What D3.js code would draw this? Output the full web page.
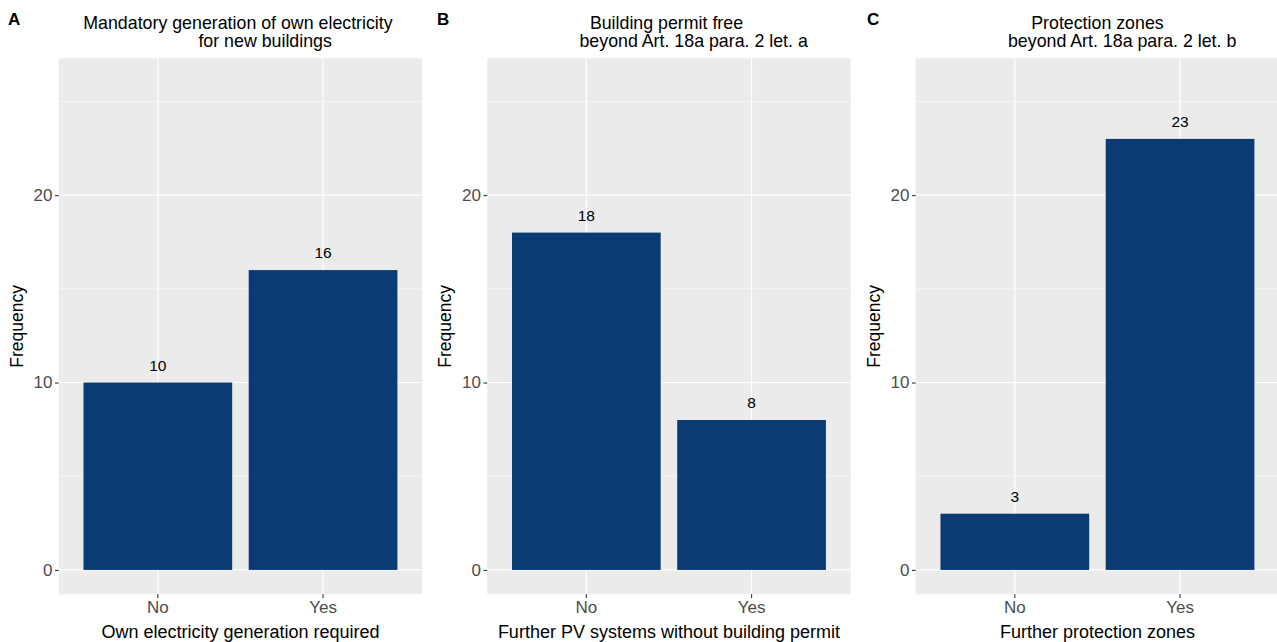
<!DOCTYPE html>
<html>
<head>
<meta charset="utf-8">
<script src="https://cdn.jsdelivr.net/npm/d3@7"></script>
<style>
  body { margin: 0; background: #fff; }
  text { font-family: "Liberation Sans", Arial, sans-serif; }
</style>
</head>
<body>
<div id="chartdiv"></div>
<script>
// data
var panelLetters = ["A", "B", "C"];
var titleLine1 = ["Mandatory generation of own electricity ", "Building permit free ", "Protection zones"];
var titleLine2 = ["          for new buildings", "          beyond Art. 18a para. 2 let. a", "          beyond Art. 18a para. 2 let. b"];
var xTitles = ["Own electricity generation required", "Further PV systems without building permit", "Further protection zones"];
var categories = ["No", "Yes"];
var countsA = [10, 16];
var countsB = [18, 8];
var countsC = [3, 23];
var yMajor = [0, 10, 20];
var yMinor = [5, 15, 25];

var allCounts = [countsA, countsB, countsC];

var W = 1277, H = 642;
var panelTop = 58.3, panelH = 536;
var panelW = 363.5;
var pitch = 428.5, firstLeft = 58.7;
var letterX = [8, 437, 867];
var barColor = "#0B3B73";

var svg = d3.select("#chartdiv").append("svg")
    .attr("width", W)
    .attr("height", H);

var yScale = d3.scaleLinear()
    .domain([-1.3, 27.3])
    .range([panelH, 0]);

var xScale = d3.scaleBand()
    .domain(categories)
    .range([0, panelW])
    .paddingInner(0.1)
    .paddingOuter(0.15);

allCounts.forEach(function(counts, p) {
    var left = firstLeft + p * pitch;
    var cx = left + panelW / 2;

    // panel letter
    svg.append("text")
        .attr("x", letterX[p])
        .attr("y", 25)
        .attr("font-size", 17)
        .attr("font-weight", "bold")
        .text(panelLetters[p]);

    // title, two lines
    [titleLine1[p], titleLine2[p]].forEach(function(t, i) {
        svg.append("text")
            .attr("x", cx)
            .attr("y", 28.5 + i * 18.5)
            .attr("text-anchor", "middle")
            .attr("font-size", 17.8)
            .attr("xml:space", "preserve")
            .style("white-space", "pre")
            .attr("fill", "#000")
            .text(t);
    });

    var g = svg.append("g")
        .attr("transform", "translate(" + left + "," + panelTop + ")");

    g.append("rect")
        .attr("width", panelW)
        .attr("height", panelH)
        .attr("fill", "#EBEBEB");

    // minor grid
    g.selectAll(".minor")
        .data(yMinor)
        .enter()
        .append("line")
        .attr("x1", 0)
        .attr("x2", panelW)
        .attr("y1", function(d) { return yScale(d); })
        .attr("y2", function(d) { return yScale(d); })
        .attr("stroke", "#fff")
        .attr("stroke-width", 0.6);

    // major grid
    g.selectAll(".major")
        .data(yMajor)
        .enter()
        .append("line")
        .attr("x1", 0)
        .attr("x2", panelW)
        .attr("y1", function(d) { return yScale(d); })
        .attr("y2", function(d) { return yScale(d); })
        .attr("stroke", "#fff")
        .attr("stroke-width", 1.2);

    g.selectAll(".vgrid")
        .data(categories)
        .enter()
        .append("line")
        .attr("x1", function(d) { return xScale(d) + xScale.bandwidth() / 2; })
        .attr("x2", function(d) { return xScale(d) + xScale.bandwidth() / 2; })
        .attr("y1", 0)
        .attr("y2", panelH)
        .attr("stroke", "#fff")
        .attr("stroke-width", 1.2);

    // bars
    g.selectAll(".bar")
        .data(counts)
        .enter()
        .append("rect")
        .attr("x", function(d, i) { return xScale(categories[i]); })
        .attr("width", xScale.bandwidth())
        .attr("y", function(d) { return yScale(d); })
        .attr("height", function(d) { return yScale(0) - yScale(d); })
        .attr("fill", barColor);

    // bar labels
    g.selectAll(".lbl")
        .data(counts)
        .enter()
        .append("text")
        .attr("x", function(d, i) { return xScale(categories[i]) + xScale.bandwidth() / 2; })
        .attr("y", function(d) { return yScale(d) - 12; })
        .attr("text-anchor", "middle")
        .attr("font-size", 15.5)
        .attr("fill", "#000")
        .text(function(d) { return d; });

    // axes
    var yAxis = d3.axisLeft(yScale)
        .tickValues(yMajor)
        .tickSize(3.7)
        .tickPadding(2.5);
    var ya = g.append("g").call(yAxis);
    ya.select(".domain").remove();
    ya.selectAll(".tick line").attr("stroke", "#333").attr("stroke-width", 1.1);
    ya.selectAll(".tick text")
        .attr("font-size", 17)
        .attr("fill", "#4D4D4D")
        .attr("font-family", "Liberation Sans, Arial, sans-serif");

    var xAxis = d3.axisBottom(xScale)
        .tickSize(3.7)
        .tickPadding(3);
    var xa = g.append("g")
        .attr("transform", "translate(0," + panelH + ")")
        .call(xAxis);
    xa.select(".domain").remove();
    xa.selectAll(".tick line").attr("stroke", "#333").attr("stroke-width", 1.1);
    xa.selectAll(".tick text")
        .attr("font-size", 17)
        .attr("fill", "#4D4D4D")
        .attr("font-family", "Liberation Sans, Arial, sans-serif");

    // axis titles
    svg.append("text")
        .attr("x", cx)
        .attr("y", 637.5)
        .attr("text-anchor", "middle")
        .attr("font-size", 18)
        .attr("fill", "#000")
        .text(xTitles[p]);

    svg.append("text")
        .attr("transform", "translate(" + (left - 36) + "," + (panelTop + panelH / 2) + ") rotate(-90)")
        .attr("text-anchor", "middle")
        .attr("font-size", 17.5)
        .attr("fill", "#000")
        .text("Frequency");
});
</script>
</body>
</html>
